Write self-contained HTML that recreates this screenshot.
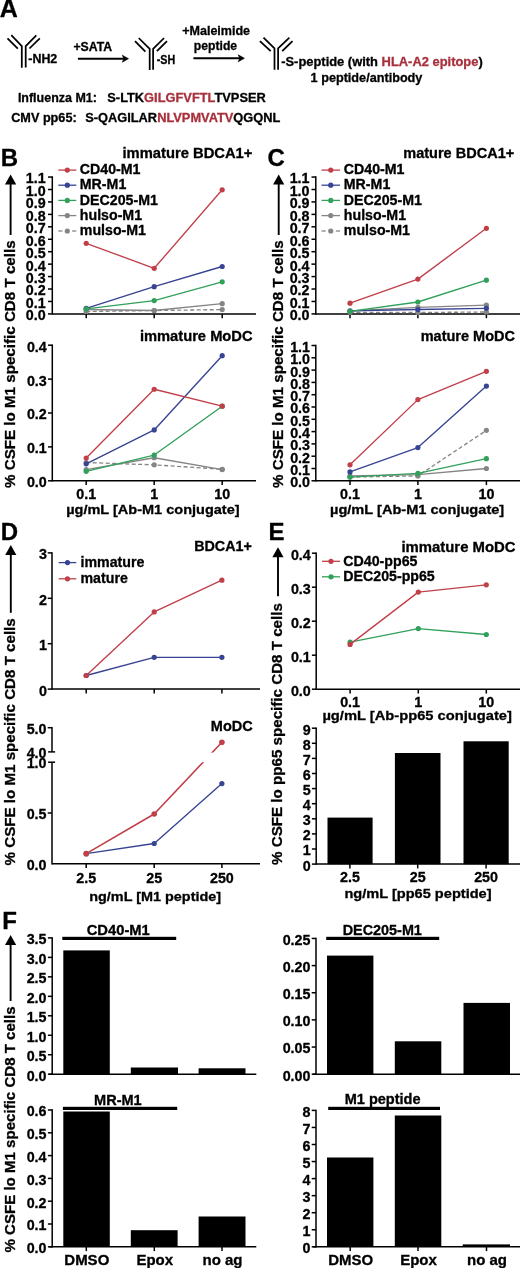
<!DOCTYPE html>
<html><head><meta charset="utf-8"><title>Figure</title>
<style>
html,body{margin:0;padding:0;background:#fff;}
body{width:520px;height:1268px;overflow:hidden;}
svg{display:block;filter:blur(0.3px);}
text{font-family:"Liberation Sans", sans-serif;font-weight:bold;stroke:#000;stroke-width:0.3px;}
tspan.r{stroke:#a8303c;}
</style></head>
<body>
<svg width="520" height="1268" viewBox="0 0 520 1268">
<rect width="520" height="1268" fill="#fff"/>
<text x="-0.20" y="17.20" font-size="25" text-anchor="start" fill="#000" >A</text>
<polyline points="11.30,35.20 21.80,46.20 21.80,67.70" fill="none" stroke="#000" stroke-width="1.75" stroke-linejoin="miter"/>
<polyline points="36.30,35.40 25.70,46.20 25.70,67.50" fill="none" stroke="#000" stroke-width="1.75" stroke-linejoin="miter"/>
<line x1="7.50" y1="38.30" x2="17.80" y2="48.60" stroke="#000" stroke-width="1.75" />
<line x1="39.80" y1="38.30" x2="29.40" y2="48.50" stroke="#000" stroke-width="1.75" />
<text x="28.30" y="63.40" font-size="12.4" text-anchor="start" fill="#000"  textLength="28.99" lengthAdjust="spacingAndGlyphs">-NH2</text>
<text x="73.40" y="51.20" font-size="12.0" text-anchor="start" fill="#000"  textLength="38.70" lengthAdjust="spacingAndGlyphs">+SATA</text>
<line x1="77.90" y1="58.70" x2="124.50" y2="58.70" stroke="#000" stroke-width="2.0" />
<polygon points="128.50,58.70 122.30,55.20 123.90,58.70 122.30,62.20" fill="#000" stroke="#000" stroke-width="0.6" stroke-linejoin="round"/>
<polyline points="138.70,38.00 149.70,48.80 149.70,70.00" fill="none" stroke="#000" stroke-width="1.75" stroke-linejoin="miter"/>
<polyline points="164.10,38.00 153.10,48.80 153.10,69.70" fill="none" stroke="#000" stroke-width="1.75" stroke-linejoin="miter"/>
<line x1="135.00" y1="41.10" x2="145.40" y2="51.70" stroke="#000" stroke-width="1.75" />
<line x1="167.00" y1="41.10" x2="156.90" y2="51.20" stroke="#000" stroke-width="1.75" />
<text x="156.80" y="64.40" font-size="12.0" text-anchor="start" fill="#000"  textLength="18.50" lengthAdjust="spacingAndGlyphs">-SH</text>
<text x="182.20" y="34.90" font-size="12.3" text-anchor="start" fill="#000"  textLength="67.90" lengthAdjust="spacingAndGlyphs">+Maleimide</text>
<text x="193.80" y="49.60" font-size="12.3" text-anchor="start" fill="#000"  textLength="43.30" lengthAdjust="spacingAndGlyphs">peptide</text>
<line x1="193.40" y1="58.30" x2="240.40" y2="58.30" stroke="#000" stroke-width="2.0" />
<polygon points="244.40,58.30 238.20,54.80 239.80,58.30 238.20,61.80" fill="#000" stroke="#000" stroke-width="0.6" stroke-linejoin="round"/>
<polyline points="263.50,37.70 274.50,48.30 274.50,69.80" fill="none" stroke="#000" stroke-width="1.75" stroke-linejoin="miter"/>
<polyline points="289.40,37.70 278.10,48.30 278.10,69.80" fill="none" stroke="#000" stroke-width="1.75" stroke-linejoin="miter"/>
<line x1="259.90" y1="41.10" x2="270.70" y2="51.20" stroke="#000" stroke-width="1.75" />
<line x1="292.50" y1="41.10" x2="282.20" y2="51.20" stroke="#000" stroke-width="1.75" />
<text x="281.20" y="65.60" font-size="12.6" text-anchor="start" fill="#000"  textLength="201.50" lengthAdjust="spacingAndGlyphs">-S-peptide (with <tspan class="r" fill="#a8303c">HLA-A2 epitope</tspan>)</text>
<text x="310.60" y="81.70" font-size="12.8" text-anchor="start" fill="#000"  textLength="111.80" lengthAdjust="spacingAndGlyphs">1 peptide/antibody</text>
<text x="17.90" y="102.40" font-size="12.8" text-anchor="start" fill="#000"  textLength="78.99" lengthAdjust="spacingAndGlyphs">Influenza M1:</text>
<text x="107.30" y="102.40" font-size="12.8" text-anchor="start" fill="#000"  textLength="158.50" lengthAdjust="spacingAndGlyphs">S-LTK<tspan class="r" fill="#a8303c">GILGFVFTL</tspan>TVPSER</text>
<text x="11.20" y="122.20" font-size="12.8" text-anchor="start" fill="#000"  textLength="65.50" lengthAdjust="spacingAndGlyphs">CMV pp65:</text>
<text x="85.20" y="122.20" font-size="12.8" text-anchor="start" fill="#000"  textLength="195.20" lengthAdjust="spacingAndGlyphs">S-QAGILAR<tspan class="r" fill="#a8303c">NLVPMVATV</tspan>QGQNL</text>
<text x="0.70" y="166.00" font-size="24" text-anchor="start" fill="#000" >B</text>
<line x1="10.60" y1="235.00" x2="10.60" y2="182.60" stroke="#000" stroke-width="1.9" />
<polygon points="10.60,174.60 5.00,184.60 16.20,184.60" fill="#000"/>
<text x="0" y="0" font-size="15.5" fill="#000" textLength="247.61" lengthAdjust="spacingAndGlyphs" transform="translate(14.90,488.00) rotate(-90)">% CSFE lo M1 specific CD8 T cells</text>
<line x1="52.30" y1="176.31" x2="52.30" y2="314.65" stroke="#000" stroke-width="1.5" />
<line x1="48.00" y1="313.90" x2="52.30" y2="313.90" stroke="#000" stroke-width="1.5" />
<text x="45.60" y="320.30" font-size="14.3" text-anchor="end" fill="#000" >0.0</text>
<line x1="48.00" y1="301.46" x2="52.30" y2="301.46" stroke="#000" stroke-width="1.5" />
<text x="45.60" y="307.86" font-size="14.3" text-anchor="end" fill="#000" >0.1</text>
<line x1="48.00" y1="289.02" x2="52.30" y2="289.02" stroke="#000" stroke-width="1.5" />
<text x="45.60" y="295.42" font-size="14.3" text-anchor="end" fill="#000" >0.2</text>
<line x1="48.00" y1="276.58" x2="52.30" y2="276.58" stroke="#000" stroke-width="1.5" />
<text x="45.60" y="282.98" font-size="14.3" text-anchor="end" fill="#000" >0.3</text>
<line x1="48.00" y1="264.14" x2="52.30" y2="264.14" stroke="#000" stroke-width="1.5" />
<text x="45.60" y="270.54" font-size="14.3" text-anchor="end" fill="#000" >0.4</text>
<line x1="48.00" y1="251.70" x2="52.30" y2="251.70" stroke="#000" stroke-width="1.5" />
<text x="45.60" y="258.10" font-size="14.3" text-anchor="end" fill="#000" >0.5</text>
<line x1="48.00" y1="239.26" x2="52.30" y2="239.26" stroke="#000" stroke-width="1.5" />
<text x="45.60" y="245.66" font-size="14.3" text-anchor="end" fill="#000" >0.6</text>
<line x1="48.00" y1="226.82" x2="52.30" y2="226.82" stroke="#000" stroke-width="1.5" />
<text x="45.60" y="233.22" font-size="14.3" text-anchor="end" fill="#000" >0.7</text>
<line x1="48.00" y1="214.38" x2="52.30" y2="214.38" stroke="#000" stroke-width="1.5" />
<text x="45.60" y="220.78" font-size="14.3" text-anchor="end" fill="#000" >0.8</text>
<line x1="48.00" y1="201.94" x2="52.30" y2="201.94" stroke="#000" stroke-width="1.5" />
<text x="45.60" y="208.34" font-size="14.3" text-anchor="end" fill="#000" >0.9</text>
<line x1="48.00" y1="189.50" x2="52.30" y2="189.50" stroke="#000" stroke-width="1.5" />
<text x="45.60" y="195.90" font-size="14.3" text-anchor="end" fill="#000" >1.0</text>
<line x1="48.00" y1="177.06" x2="52.30" y2="177.06" stroke="#000" stroke-width="1.5" />
<text x="45.60" y="183.46" font-size="14.3" text-anchor="end" fill="#000" >1.1</text>
<line x1="52.30" y1="313.90" x2="256.00" y2="313.90" stroke="#000" stroke-width="1.5" />
<line x1="86.20" y1="313.90" x2="86.20" y2="318.20" stroke="#000" stroke-width="1.5" />
<line x1="154.20" y1="313.90" x2="154.20" y2="318.20" stroke="#000" stroke-width="1.5" />
<line x1="222.20" y1="313.90" x2="222.20" y2="318.20" stroke="#000" stroke-width="1.5" />
<text x="122.50" y="157.90" font-size="13.8" text-anchor="start" fill="#000"  textLength="129.90" lengthAdjust="spacingAndGlyphs">immature BDCA1+</text>
<polyline points="86.20,311.50 154.20,310.50 222.20,309.60" fill="none" stroke="#858585" stroke-width="1.35" stroke-linejoin="round" stroke-dasharray="4 2.5"/>
<circle cx="86.20" cy="311.50" r="2.6" fill="#858585"/>
<circle cx="154.20" cy="310.50" r="2.6" fill="#858585"/>
<circle cx="222.20" cy="309.60" r="2.6" fill="#858585"/>
<polyline points="86.20,309.50 154.20,310.50 222.20,303.70" fill="none" stroke="#858585" stroke-width="1.35" stroke-linejoin="round" />
<circle cx="86.20" cy="309.50" r="2.6" fill="#858585"/>
<circle cx="154.20" cy="310.50" r="2.6" fill="#858585"/>
<circle cx="222.20" cy="303.70" r="2.6" fill="#858585"/>
<polyline points="86.20,308.30 154.20,286.70 222.20,266.50" fill="none" stroke="#374393" stroke-width="1.35" stroke-linejoin="round" />
<circle cx="86.20" cy="308.30" r="2.6" fill="#374393"/>
<circle cx="154.20" cy="286.70" r="2.6" fill="#374393"/>
<circle cx="222.20" cy="266.50" r="2.6" fill="#374393"/>
<polyline points="86.20,308.80 154.20,300.60 222.20,281.80" fill="none" stroke="#31a05a" stroke-width="1.35" stroke-linejoin="round" />
<circle cx="86.20" cy="308.80" r="2.6" fill="#31a05a"/>
<circle cx="154.20" cy="300.60" r="2.6" fill="#31a05a"/>
<circle cx="222.20" cy="281.80" r="2.6" fill="#31a05a"/>
<polyline points="86.20,243.30 154.20,268.30 222.20,189.80" fill="none" stroke="#c13f49" stroke-width="1.35" stroke-linejoin="round" />
<circle cx="86.20" cy="243.30" r="2.6" fill="#c13f49"/>
<circle cx="154.20" cy="268.30" r="2.6" fill="#c13f49"/>
<circle cx="222.20" cy="189.80" r="2.6" fill="#c13f49"/>
<line x1="58.30" y1="170.10" x2="76.30" y2="170.10" stroke="#c13f49" stroke-width="1.3" />
<circle cx="67.30" cy="170.10" r="2.6" fill="#c13f49"/>
<text x="79.80" y="174.38" font-size="14.2" text-anchor="start" fill="#000" >CD40-M1</text>
<line x1="58.30" y1="185.20" x2="76.30" y2="185.20" stroke="#374393" stroke-width="1.3" />
<circle cx="67.30" cy="185.20" r="2.6" fill="#374393"/>
<text x="79.80" y="189.48" font-size="14.2" text-anchor="start" fill="#000" >MR-M1</text>
<line x1="58.30" y1="200.40" x2="76.30" y2="200.40" stroke="#31a05a" stroke-width="1.3" />
<circle cx="67.30" cy="200.40" r="2.6" fill="#31a05a"/>
<text x="79.80" y="204.68" font-size="14.2" text-anchor="start" fill="#000" >DEC205-M1</text>
<line x1="58.30" y1="215.60" x2="76.30" y2="215.60" stroke="#858585" stroke-width="1.3" />
<circle cx="67.30" cy="215.60" r="2.6" fill="#858585"/>
<text x="79.80" y="219.88" font-size="14.2" text-anchor="start" fill="#000" >hulso-M1</text>
<line x1="58.30" y1="231.00" x2="62.50" y2="231.00" stroke="#858585" stroke-width="1.3" />
<line x1="72.10" y1="231.00" x2="76.30" y2="231.00" stroke="#858585" stroke-width="1.3" />
<circle cx="67.30" cy="231.00" r="2.6" fill="#858585"/>
<text x="79.80" y="235.28" font-size="14.2" text-anchor="start" fill="#000" >mulso-M1</text>
<line x1="52.30" y1="344.45" x2="52.30" y2="481.55" stroke="#000" stroke-width="1.5" />
<line x1="48.00" y1="480.80" x2="52.30" y2="480.80" stroke="#000" stroke-width="1.5" />
<text x="46.80" y="487.20" font-size="14.3" text-anchor="end" fill="#000" >0.0</text>
<line x1="48.00" y1="446.90" x2="52.30" y2="446.90" stroke="#000" stroke-width="1.5" />
<text x="46.80" y="453.30" font-size="14.3" text-anchor="end" fill="#000" >0.1</text>
<line x1="48.00" y1="413.00" x2="52.30" y2="413.00" stroke="#000" stroke-width="1.5" />
<text x="46.80" y="419.40" font-size="14.3" text-anchor="end" fill="#000" >0.2</text>
<line x1="48.00" y1="379.10" x2="52.30" y2="379.10" stroke="#000" stroke-width="1.5" />
<text x="46.80" y="385.50" font-size="14.3" text-anchor="end" fill="#000" >0.3</text>
<line x1="48.00" y1="345.20" x2="52.30" y2="345.20" stroke="#000" stroke-width="1.5" />
<text x="46.80" y="351.60" font-size="14.3" text-anchor="end" fill="#000" >0.4</text>
<line x1="52.30" y1="480.80" x2="256.00" y2="480.80" stroke="#000" stroke-width="1.5" />
<line x1="86.20" y1="480.80" x2="86.20" y2="485.10" stroke="#000" stroke-width="1.5" />
<line x1="154.20" y1="480.80" x2="154.20" y2="485.10" stroke="#000" stroke-width="1.5" />
<line x1="222.20" y1="480.80" x2="222.20" y2="485.10" stroke="#000" stroke-width="1.5" />
<text x="139.90" y="341.20" font-size="13.8" text-anchor="start" fill="#000"  textLength="112.69" lengthAdjust="spacingAndGlyphs">immature MoDC</text>
<polyline points="86.20,462.49 154.20,464.87 222.20,469.27" fill="none" stroke="#858585" stroke-width="1.35" stroke-linejoin="round" stroke-dasharray="4 2.5"/>
<circle cx="86.20" cy="462.49" r="2.6" fill="#858585"/>
<circle cx="154.20" cy="464.87" r="2.6" fill="#858585"/>
<circle cx="222.20" cy="469.27" r="2.6" fill="#858585"/>
<polyline points="86.20,469.61 154.20,457.75 222.20,469.61" fill="none" stroke="#858585" stroke-width="1.35" stroke-linejoin="round" />
<circle cx="86.20" cy="469.61" r="2.6" fill="#858585"/>
<circle cx="154.20" cy="457.75" r="2.6" fill="#858585"/>
<circle cx="222.20" cy="469.61" r="2.6" fill="#858585"/>
<polyline points="86.20,463.85 154.20,429.95 222.20,355.71" fill="none" stroke="#374393" stroke-width="1.35" stroke-linejoin="round" />
<circle cx="86.20" cy="463.85" r="2.6" fill="#374393"/>
<circle cx="154.20" cy="429.95" r="2.6" fill="#374393"/>
<circle cx="222.20" cy="355.71" r="2.6" fill="#374393"/>
<polyline points="86.20,471.31 154.20,455.04 222.20,406.22" fill="none" stroke="#31a05a" stroke-width="1.35" stroke-linejoin="round" />
<circle cx="86.20" cy="471.31" r="2.6" fill="#31a05a"/>
<circle cx="154.20" cy="455.04" r="2.6" fill="#31a05a"/>
<circle cx="222.20" cy="406.22" r="2.6" fill="#31a05a"/>
<polyline points="86.20,458.09 154.20,389.27 222.20,406.22" fill="none" stroke="#c13f49" stroke-width="1.35" stroke-linejoin="round" />
<circle cx="86.20" cy="458.09" r="2.6" fill="#c13f49"/>
<circle cx="154.20" cy="389.27" r="2.6" fill="#c13f49"/>
<circle cx="222.20" cy="406.22" r="2.6" fill="#c13f49"/>
<text x="86.20" y="499.10" font-size="14.3" text-anchor="middle" fill="#000" >0.1</text>
<text x="154.20" y="499.10" font-size="14.3" text-anchor="middle" fill="#000" >1</text>
<text x="222.20" y="499.10" font-size="14.3" text-anchor="middle" fill="#000" >10</text>
<text x="66.20" y="513.70" font-size="13.6" text-anchor="start" fill="#000"  textLength="173.41" lengthAdjust="spacingAndGlyphs">µg/mL [Ab-M1 conjugate]</text>
<text x="267.60" y="166.30" font-size="24" text-anchor="start" fill="#000" >C</text>
<line x1="278.70" y1="235.00" x2="278.70" y2="182.60" stroke="#000" stroke-width="1.9" />
<polygon points="278.70,174.60 273.10,184.60 284.30,184.60" fill="#000"/>
<text x="0" y="0" font-size="15.5" fill="#000" textLength="247.61" lengthAdjust="spacingAndGlyphs" transform="translate(283.00,488.00) rotate(-90)">% CSFE lo M1 specific CD8 T cells</text>
<line x1="315.80" y1="176.31" x2="315.80" y2="314.65" stroke="#000" stroke-width="1.5" />
<line x1="311.50" y1="313.90" x2="315.80" y2="313.90" stroke="#000" stroke-width="1.5" />
<text x="309.50" y="320.30" font-size="14.3" text-anchor="end" fill="#000" >0.0</text>
<line x1="311.50" y1="301.46" x2="315.80" y2="301.46" stroke="#000" stroke-width="1.5" />
<text x="309.50" y="307.86" font-size="14.3" text-anchor="end" fill="#000" >0.1</text>
<line x1="311.50" y1="289.02" x2="315.80" y2="289.02" stroke="#000" stroke-width="1.5" />
<text x="309.50" y="295.42" font-size="14.3" text-anchor="end" fill="#000" >0.2</text>
<line x1="311.50" y1="276.58" x2="315.80" y2="276.58" stroke="#000" stroke-width="1.5" />
<text x="309.50" y="282.98" font-size="14.3" text-anchor="end" fill="#000" >0.3</text>
<line x1="311.50" y1="264.14" x2="315.80" y2="264.14" stroke="#000" stroke-width="1.5" />
<text x="309.50" y="270.54" font-size="14.3" text-anchor="end" fill="#000" >0.4</text>
<line x1="311.50" y1="251.70" x2="315.80" y2="251.70" stroke="#000" stroke-width="1.5" />
<text x="309.50" y="258.10" font-size="14.3" text-anchor="end" fill="#000" >0.5</text>
<line x1="311.50" y1="239.26" x2="315.80" y2="239.26" stroke="#000" stroke-width="1.5" />
<text x="309.50" y="245.66" font-size="14.3" text-anchor="end" fill="#000" >0.6</text>
<line x1="311.50" y1="226.82" x2="315.80" y2="226.82" stroke="#000" stroke-width="1.5" />
<text x="309.50" y="233.22" font-size="14.3" text-anchor="end" fill="#000" >0.7</text>
<line x1="311.50" y1="214.38" x2="315.80" y2="214.38" stroke="#000" stroke-width="1.5" />
<text x="309.50" y="220.78" font-size="14.3" text-anchor="end" fill="#000" >0.8</text>
<line x1="311.50" y1="201.94" x2="315.80" y2="201.94" stroke="#000" stroke-width="1.5" />
<text x="309.50" y="208.34" font-size="14.3" text-anchor="end" fill="#000" >0.9</text>
<line x1="311.50" y1="189.50" x2="315.80" y2="189.50" stroke="#000" stroke-width="1.5" />
<text x="309.50" y="195.90" font-size="14.3" text-anchor="end" fill="#000" >1.0</text>
<line x1="311.50" y1="177.06" x2="315.80" y2="177.06" stroke="#000" stroke-width="1.5" />
<text x="309.50" y="183.46" font-size="14.3" text-anchor="end" fill="#000" >1.1</text>
<line x1="315.80" y1="313.90" x2="520.00" y2="313.90" stroke="#000" stroke-width="1.5" />
<line x1="350.00" y1="313.90" x2="350.00" y2="318.20" stroke="#000" stroke-width="1.5" />
<line x1="417.90" y1="313.90" x2="417.90" y2="318.20" stroke="#000" stroke-width="1.5" />
<line x1="486.40" y1="313.90" x2="486.40" y2="318.20" stroke="#000" stroke-width="1.5" />
<text x="403.30" y="158.30" font-size="13.8" text-anchor="start" fill="#000"  textLength="110.90" lengthAdjust="spacingAndGlyphs">mature BDCA1+</text>
<polyline points="350.00,312.30 417.90,312.50 486.40,312.00" fill="none" stroke="#858585" stroke-width="1.35" stroke-linejoin="round" stroke-dasharray="4 2.5"/>
<circle cx="350.00" cy="312.30" r="2.6" fill="#858585"/>
<circle cx="417.90" cy="312.50" r="2.6" fill="#858585"/>
<circle cx="486.40" cy="312.00" r="2.6" fill="#858585"/>
<polyline points="350.00,311.00 417.90,307.30 486.40,305.20" fill="none" stroke="#858585" stroke-width="1.35" stroke-linejoin="round" />
<circle cx="350.00" cy="311.00" r="2.6" fill="#858585"/>
<circle cx="417.90" cy="307.30" r="2.6" fill="#858585"/>
<circle cx="486.40" cy="305.20" r="2.6" fill="#858585"/>
<polyline points="350.00,310.80 417.90,309.50 486.40,308.30" fill="none" stroke="#374393" stroke-width="1.35" stroke-linejoin="round" />
<circle cx="350.00" cy="310.80" r="2.6" fill="#374393"/>
<circle cx="417.90" cy="309.50" r="2.6" fill="#374393"/>
<circle cx="486.40" cy="308.30" r="2.6" fill="#374393"/>
<polyline points="350.00,311.30 417.90,302.00 486.40,280.20" fill="none" stroke="#31a05a" stroke-width="1.35" stroke-linejoin="round" />
<circle cx="350.00" cy="311.30" r="2.6" fill="#31a05a"/>
<circle cx="417.90" cy="302.00" r="2.6" fill="#31a05a"/>
<circle cx="486.40" cy="280.20" r="2.6" fill="#31a05a"/>
<polyline points="350.00,303.20 417.90,279.10 486.40,228.30" fill="none" stroke="#c13f49" stroke-width="1.35" stroke-linejoin="round" />
<circle cx="350.00" cy="303.20" r="2.6" fill="#c13f49"/>
<circle cx="417.90" cy="279.10" r="2.6" fill="#c13f49"/>
<circle cx="486.40" cy="228.30" r="2.6" fill="#c13f49"/>
<line x1="321.50" y1="170.10" x2="340.00" y2="170.10" stroke="#c13f49" stroke-width="1.3" />
<circle cx="330.75" cy="170.10" r="2.6" fill="#c13f49"/>
<text x="343.80" y="174.38" font-size="14.2" text-anchor="start" fill="#000" >CD40-M1</text>
<line x1="321.50" y1="185.20" x2="340.00" y2="185.20" stroke="#374393" stroke-width="1.3" />
<circle cx="330.75" cy="185.20" r="2.6" fill="#374393"/>
<text x="343.80" y="189.48" font-size="14.2" text-anchor="start" fill="#000" >MR-M1</text>
<line x1="321.50" y1="200.40" x2="340.00" y2="200.40" stroke="#31a05a" stroke-width="1.3" />
<circle cx="330.75" cy="200.40" r="2.6" fill="#31a05a"/>
<text x="343.80" y="204.68" font-size="14.2" text-anchor="start" fill="#000" >DEC205-M1</text>
<line x1="321.50" y1="215.60" x2="340.00" y2="215.60" stroke="#858585" stroke-width="1.3" />
<circle cx="330.75" cy="215.60" r="2.6" fill="#858585"/>
<text x="343.80" y="219.88" font-size="14.2" text-anchor="start" fill="#000" >hulso-M1</text>
<line x1="321.50" y1="231.00" x2="325.70" y2="231.00" stroke="#858585" stroke-width="1.3" />
<line x1="335.80" y1="231.00" x2="340.00" y2="231.00" stroke="#858585" stroke-width="1.3" />
<circle cx="330.75" cy="231.00" r="2.6" fill="#858585"/>
<text x="343.80" y="235.28" font-size="14.2" text-anchor="start" fill="#000" >mulso-M1</text>
<line x1="315.80" y1="344.75" x2="315.80" y2="481.55" stroke="#000" stroke-width="1.5" />
<line x1="311.50" y1="480.80" x2="315.80" y2="480.80" stroke="#000" stroke-width="1.5" />
<text x="310.00" y="487.20" font-size="14.3" text-anchor="end" fill="#000" >0.0</text>
<line x1="311.50" y1="468.50" x2="315.80" y2="468.50" stroke="#000" stroke-width="1.5" />
<text x="310.00" y="474.90" font-size="14.3" text-anchor="end" fill="#000" >0.1</text>
<line x1="311.50" y1="456.20" x2="315.80" y2="456.20" stroke="#000" stroke-width="1.5" />
<text x="310.00" y="462.60" font-size="14.3" text-anchor="end" fill="#000" >0.2</text>
<line x1="311.50" y1="443.90" x2="315.80" y2="443.90" stroke="#000" stroke-width="1.5" />
<text x="310.00" y="450.30" font-size="14.3" text-anchor="end" fill="#000" >0.3</text>
<line x1="311.50" y1="431.60" x2="315.80" y2="431.60" stroke="#000" stroke-width="1.5" />
<text x="310.00" y="438.00" font-size="14.3" text-anchor="end" fill="#000" >0.4</text>
<line x1="311.50" y1="419.30" x2="315.80" y2="419.30" stroke="#000" stroke-width="1.5" />
<text x="310.00" y="425.70" font-size="14.3" text-anchor="end" fill="#000" >0.5</text>
<line x1="311.50" y1="407.00" x2="315.80" y2="407.00" stroke="#000" stroke-width="1.5" />
<text x="310.00" y="413.40" font-size="14.3" text-anchor="end" fill="#000" >0.6</text>
<line x1="311.50" y1="394.70" x2="315.80" y2="394.70" stroke="#000" stroke-width="1.5" />
<text x="310.00" y="401.10" font-size="14.3" text-anchor="end" fill="#000" >0.7</text>
<line x1="311.50" y1="382.40" x2="315.80" y2="382.40" stroke="#000" stroke-width="1.5" />
<text x="310.00" y="388.80" font-size="14.3" text-anchor="end" fill="#000" >0.8</text>
<line x1="311.50" y1="370.10" x2="315.80" y2="370.10" stroke="#000" stroke-width="1.5" />
<text x="310.00" y="376.50" font-size="14.3" text-anchor="end" fill="#000" >0.9</text>
<line x1="311.50" y1="357.80" x2="315.80" y2="357.80" stroke="#000" stroke-width="1.5" />
<text x="310.00" y="364.20" font-size="14.3" text-anchor="end" fill="#000" >1.0</text>
<line x1="311.50" y1="345.50" x2="315.80" y2="345.50" stroke="#000" stroke-width="1.5" />
<text x="310.00" y="351.90" font-size="14.3" text-anchor="end" fill="#000" >1.1</text>
<line x1="315.80" y1="480.80" x2="520.00" y2="480.80" stroke="#000" stroke-width="1.5" />
<line x1="350.00" y1="480.80" x2="350.00" y2="485.10" stroke="#000" stroke-width="1.5" />
<line x1="417.90" y1="480.80" x2="417.90" y2="485.10" stroke="#000" stroke-width="1.5" />
<line x1="486.40" y1="480.80" x2="486.40" y2="485.10" stroke="#000" stroke-width="1.5" />
<text x="420.70" y="340.80" font-size="13.8" text-anchor="start" fill="#000"  textLength="94.29" lengthAdjust="spacingAndGlyphs">mature MoDC</text>
<polyline points="350.00,477.11 417.90,475.88 486.40,430.37" fill="none" stroke="#858585" stroke-width="1.35" stroke-linejoin="round" stroke-dasharray="4 2.5"/>
<circle cx="350.00" cy="477.11" r="2.6" fill="#858585"/>
<circle cx="417.90" cy="475.88" r="2.6" fill="#858585"/>
<circle cx="486.40" cy="430.37" r="2.6" fill="#858585"/>
<polyline points="350.00,475.88 417.90,474.65 486.40,468.50" fill="none" stroke="#858585" stroke-width="1.35" stroke-linejoin="round" />
<circle cx="350.00" cy="475.88" r="2.6" fill="#858585"/>
<circle cx="417.90" cy="474.65" r="2.6" fill="#858585"/>
<circle cx="486.40" cy="468.50" r="2.6" fill="#858585"/>
<polyline points="350.00,477.11 417.90,473.42 486.40,458.66" fill="none" stroke="#31a05a" stroke-width="1.35" stroke-linejoin="round" />
<circle cx="350.00" cy="477.11" r="2.6" fill="#31a05a"/>
<circle cx="417.90" cy="473.42" r="2.6" fill="#31a05a"/>
<circle cx="486.40" cy="458.66" r="2.6" fill="#31a05a"/>
<polyline points="350.00,471.94 417.90,447.59 486.40,386.09" fill="none" stroke="#374393" stroke-width="1.35" stroke-linejoin="round" />
<circle cx="350.00" cy="471.94" r="2.6" fill="#374393"/>
<circle cx="417.90" cy="447.59" r="2.6" fill="#374393"/>
<circle cx="486.40" cy="386.09" r="2.6" fill="#374393"/>
<polyline points="350.00,464.81 417.90,399.62 486.40,371.33" fill="none" stroke="#c13f49" stroke-width="1.35" stroke-linejoin="round" />
<circle cx="350.00" cy="464.81" r="2.6" fill="#c13f49"/>
<circle cx="417.90" cy="399.62" r="2.6" fill="#c13f49"/>
<circle cx="486.40" cy="371.33" r="2.6" fill="#c13f49"/>
<text x="350.00" y="499.10" font-size="14.3" text-anchor="middle" fill="#000" >0.1</text>
<text x="417.90" y="499.10" font-size="14.3" text-anchor="middle" fill="#000" >1</text>
<text x="486.40" y="499.10" font-size="14.3" text-anchor="middle" fill="#000" >10</text>
<text x="330.00" y="513.70" font-size="13.6" text-anchor="start" fill="#000"  textLength="174.21" lengthAdjust="spacingAndGlyphs">µg/mL [Ab-M1 conjugate]</text>
<text x="0.70" y="540.30" font-size="24" text-anchor="start" fill="#000" >D</text>
<line x1="10.80" y1="612.80" x2="10.80" y2="553.00" stroke="#000" stroke-width="1.9" />
<polygon points="10.80,545.00 5.20,555.00 16.40,555.00" fill="#000"/>
<text x="0" y="0" font-size="15.5" fill="#000" textLength="247.11" lengthAdjust="spacingAndGlyphs" transform="translate(15.10,865.40) rotate(-90)">% CSFE lo M1 specific CD8 T cells</text>
<line x1="52.00" y1="552.15" x2="52.00" y2="689.85" stroke="#000" stroke-width="1.5" />
<line x1="47.70" y1="689.10" x2="52.00" y2="689.10" stroke="#000" stroke-width="1.5" />
<text x="47.00" y="695.50" font-size="14.3" text-anchor="end" fill="#000" >0</text>
<line x1="47.70" y1="643.70" x2="52.00" y2="643.70" stroke="#000" stroke-width="1.5" />
<text x="47.00" y="650.10" font-size="14.3" text-anchor="end" fill="#000" >1</text>
<line x1="47.70" y1="598.30" x2="52.00" y2="598.30" stroke="#000" stroke-width="1.5" />
<text x="47.00" y="604.70" font-size="14.3" text-anchor="end" fill="#000" >2</text>
<line x1="47.70" y1="552.90" x2="52.00" y2="552.90" stroke="#000" stroke-width="1.5" />
<text x="47.00" y="559.30" font-size="14.3" text-anchor="end" fill="#000" >3</text>
<line x1="52.00" y1="689.10" x2="260.00" y2="689.10" stroke="#000" stroke-width="1.5" />
<line x1="86.20" y1="689.10" x2="86.20" y2="693.40" stroke="#000" stroke-width="1.5" />
<line x1="154.20" y1="689.10" x2="154.20" y2="693.40" stroke="#000" stroke-width="1.5" />
<line x1="221.90" y1="689.10" x2="221.90" y2="693.40" stroke="#000" stroke-width="1.5" />
<text x="194.20" y="551.20" font-size="13.8" text-anchor="start" fill="#000"  textLength="57.70" lengthAdjust="spacingAndGlyphs">BDCA1+</text>
<polyline points="86.20,675.48 154.20,657.32 221.90,657.32" fill="none" stroke="#374393" stroke-width="1.35" stroke-linejoin="round" />
<circle cx="86.20" cy="675.48" r="2.6" fill="#374393"/>
<circle cx="154.20" cy="657.32" r="2.6" fill="#374393"/>
<circle cx="221.90" cy="657.32" r="2.6" fill="#374393"/>
<polyline points="86.20,675.48 154.20,611.92 221.90,580.14" fill="none" stroke="#c13f49" stroke-width="1.35" stroke-linejoin="round" />
<circle cx="86.20" cy="675.48" r="2.6" fill="#c13f49"/>
<circle cx="154.20" cy="611.92" r="2.6" fill="#c13f49"/>
<circle cx="221.90" cy="580.14" r="2.6" fill="#c13f49"/>
<line x1="58.70" y1="562.60" x2="76.30" y2="562.60" stroke="#374393" stroke-width="1.3" />
<circle cx="67.50" cy="562.60" r="2.6" fill="#374393"/>
<text x="80.50" y="566.88" font-size="14.2" text-anchor="start" fill="#000" >immature</text>
<line x1="58.70" y1="578.80" x2="76.30" y2="578.80" stroke="#c13f49" stroke-width="1.3" />
<circle cx="67.50" cy="578.80" r="2.6" fill="#c13f49"/>
<text x="80.50" y="583.08" font-size="14.2" text-anchor="start" fill="#000" >mature</text>
<line x1="52.00" y1="726.95" x2="52.00" y2="751.90" stroke="#000" stroke-width="1.5" />
<line x1="47.70" y1="727.70" x2="52.00" y2="727.70" stroke="#000" stroke-width="1.5" />
<line x1="48.10" y1="751.90" x2="55.10" y2="751.90" stroke="#000" stroke-width="1.5" />
<text x="46.50" y="734.10" font-size="14.3" text-anchor="end" fill="#000" >5.0</text>
<text x="46.50" y="758.20" font-size="14.3" text-anchor="end" fill="#000" >4.0</text>
<line x1="52.00" y1="762.20" x2="52.00" y2="864.55" stroke="#000" stroke-width="1.5" />
<line x1="48.10" y1="762.20" x2="55.10" y2="762.20" stroke="#000" stroke-width="1.5" />
<line x1="47.70" y1="813.00" x2="52.00" y2="813.00" stroke="#000" stroke-width="1.5" />
<text x="46.50" y="767.70" font-size="14.3" text-anchor="end" fill="#000" >1.0</text>
<text x="46.50" y="819.40" font-size="14.3" text-anchor="end" fill="#000" >0.5</text>
<text x="46.50" y="870.20" font-size="14.3" text-anchor="end" fill="#000" >0.0</text>
<line x1="52.00" y1="863.80" x2="260.00" y2="863.80" stroke="#000" stroke-width="1.5" />
<line x1="86.20" y1="863.80" x2="86.20" y2="868.10" stroke="#000" stroke-width="1.5" />
<line x1="154.20" y1="863.80" x2="154.20" y2="868.10" stroke="#000" stroke-width="1.5" />
<line x1="221.90" y1="863.80" x2="221.90" y2="868.10" stroke="#000" stroke-width="1.5" />
<text x="210.80" y="731.20" font-size="13.8" text-anchor="start" fill="#000"  textLength="41.90" lengthAdjust="spacingAndGlyphs">MoDC</text>
<polyline points="86.20,853.64 154.20,843.48 221.90,783.54" fill="none" stroke="#374393" stroke-width="1.35" stroke-linejoin="round" />
<circle cx="86.20" cy="853.64" r="2.6" fill="#374393"/>
<circle cx="154.20" cy="843.48" r="2.6" fill="#374393"/>
<circle cx="221.90" cy="783.54" r="2.6" fill="#374393"/>
<polyline points="86.20,853.64 154.20,814.02 221.90,742.30" fill="none" stroke="#c13f49" stroke-width="1.6" stroke-linejoin="round" />
<rect x="150" y="752.6" width="90" height="9.6" fill="#fff"/>
<circle cx="86.20" cy="853.64" r="2.8" fill="#c13f49"/>
<circle cx="154.20" cy="814.02" r="2.8" fill="#c13f49"/>
<circle cx="221.90" cy="742.30" r="2.8" fill="#c13f49"/>
<text x="86.20" y="882.70" font-size="14.3" text-anchor="middle" fill="#000" >2.5</text>
<text x="154.20" y="882.70" font-size="14.3" text-anchor="middle" fill="#000" >25</text>
<text x="221.90" y="882.70" font-size="14.3" text-anchor="middle" fill="#000" >250</text>
<text x="89.20" y="900.80" font-size="13.6" text-anchor="start" fill="#000"  textLength="131.90" lengthAdjust="spacingAndGlyphs">ng/mL [M1 peptide]</text>
<text x="268.50" y="540.30" font-size="24" text-anchor="start" fill="#000" >E</text>
<line x1="278.00" y1="596.20" x2="278.00" y2="555.30" stroke="#000" stroke-width="1.9" />
<polygon points="278.00,547.30 272.40,557.30 283.60,557.30" fill="#000"/>
<text x="0" y="0" font-size="15.5" fill="#000" textLength="261.90" lengthAdjust="spacingAndGlyphs" transform="translate(282.30,865.00) rotate(-90)">% CSFE lo pp65 specific CD8 T cells</text>
<line x1="316.20" y1="552.45" x2="316.20" y2="689.95" stroke="#000" stroke-width="1.5" />
<line x1="311.90" y1="689.20" x2="316.20" y2="689.20" stroke="#000" stroke-width="1.5" />
<text x="310.80" y="695.60" font-size="14.3" text-anchor="end" fill="#000" >0.0</text>
<line x1="311.90" y1="655.20" x2="316.20" y2="655.20" stroke="#000" stroke-width="1.5" />
<text x="310.80" y="661.60" font-size="14.3" text-anchor="end" fill="#000" >0.1</text>
<line x1="311.90" y1="621.20" x2="316.20" y2="621.20" stroke="#000" stroke-width="1.5" />
<text x="310.80" y="627.60" font-size="14.3" text-anchor="end" fill="#000" >0.2</text>
<line x1="311.90" y1="587.20" x2="316.20" y2="587.20" stroke="#000" stroke-width="1.5" />
<text x="310.80" y="593.60" font-size="14.3" text-anchor="end" fill="#000" >0.3</text>
<line x1="311.90" y1="553.20" x2="316.20" y2="553.20" stroke="#000" stroke-width="1.5" />
<text x="310.80" y="559.60" font-size="14.3" text-anchor="end" fill="#000" >0.4</text>
<line x1="316.20" y1="689.20" x2="520.00" y2="689.20" stroke="#000" stroke-width="1.5" />
<line x1="350.10" y1="689.20" x2="350.10" y2="693.50" stroke="#000" stroke-width="1.5" />
<line x1="418.30" y1="689.20" x2="418.30" y2="693.50" stroke="#000" stroke-width="1.5" />
<line x1="486.30" y1="689.20" x2="486.30" y2="693.50" stroke="#000" stroke-width="1.5" />
<text x="401.40" y="552.00" font-size="13.8" text-anchor="start" fill="#000"  textLength="114.19" lengthAdjust="spacingAndGlyphs">immature MoDC</text>
<polyline points="350.10,642.20 418.30,628.60 486.30,634.50" fill="none" stroke="#31a05a" stroke-width="1.35" stroke-linejoin="round" />
<circle cx="350.10" cy="642.20" r="2.6" fill="#31a05a"/>
<circle cx="418.30" cy="628.60" r="2.6" fill="#31a05a"/>
<circle cx="486.30" cy="634.50" r="2.6" fill="#31a05a"/>
<polyline points="350.10,644.40 418.30,592.10 486.30,584.80" fill="none" stroke="#c13f49" stroke-width="1.35" stroke-linejoin="round" />
<circle cx="350.10" cy="644.40" r="2.6" fill="#c13f49"/>
<circle cx="418.30" cy="592.10" r="2.6" fill="#c13f49"/>
<circle cx="486.30" cy="584.80" r="2.6" fill="#c13f49"/>
<line x1="322.00" y1="561.30" x2="340.00" y2="561.30" stroke="#c13f49" stroke-width="1.3" />
<circle cx="331.00" cy="561.30" r="2.6" fill="#c13f49"/>
<text x="343.30" y="565.58" font-size="14.2" text-anchor="start" fill="#000" >CD40-pp65</text>
<line x1="322.00" y1="576.80" x2="340.00" y2="576.80" stroke="#31a05a" stroke-width="1.3" />
<circle cx="331.00" cy="576.80" r="2.6" fill="#31a05a"/>
<text x="343.30" y="581.08" font-size="14.2" text-anchor="start" fill="#000" >DEC205-pp65</text>
<text x="350.10" y="707.00" font-size="14.3" text-anchor="middle" fill="#000" >0.1</text>
<text x="418.30" y="707.00" font-size="14.3" text-anchor="middle" fill="#000" >1</text>
<text x="486.30" y="707.00" font-size="14.3" text-anchor="middle" fill="#000" >10</text>
<text x="322.40" y="719.50" font-size="13.6" text-anchor="start" fill="#000"  textLength="189.50" lengthAdjust="spacingAndGlyphs">µg/mL [Ab-pp65 conjugate]</text>
<line x1="316.20" y1="727.45" x2="316.20" y2="864.85" stroke="#000" stroke-width="1.5" />
<line x1="311.90" y1="864.10" x2="316.20" y2="864.10" stroke="#000" stroke-width="1.5" />
<text x="310.60" y="870.50" font-size="14.3" text-anchor="end" fill="#000" >0</text>
<line x1="311.90" y1="849.00" x2="316.20" y2="849.00" stroke="#000" stroke-width="1.5" />
<text x="310.60" y="855.40" font-size="14.3" text-anchor="end" fill="#000" >1</text>
<line x1="311.90" y1="833.90" x2="316.20" y2="833.90" stroke="#000" stroke-width="1.5" />
<text x="310.60" y="840.30" font-size="14.3" text-anchor="end" fill="#000" >2</text>
<line x1="311.90" y1="818.80" x2="316.20" y2="818.80" stroke="#000" stroke-width="1.5" />
<text x="310.60" y="825.20" font-size="14.3" text-anchor="end" fill="#000" >3</text>
<line x1="311.90" y1="803.70" x2="316.20" y2="803.70" stroke="#000" stroke-width="1.5" />
<text x="310.60" y="810.10" font-size="14.3" text-anchor="end" fill="#000" >4</text>
<line x1="311.90" y1="788.60" x2="316.20" y2="788.60" stroke="#000" stroke-width="1.5" />
<text x="310.60" y="795.00" font-size="14.3" text-anchor="end" fill="#000" >5</text>
<line x1="311.90" y1="773.50" x2="316.20" y2="773.50" stroke="#000" stroke-width="1.5" />
<text x="310.60" y="779.90" font-size="14.3" text-anchor="end" fill="#000" >6</text>
<line x1="311.90" y1="758.40" x2="316.20" y2="758.40" stroke="#000" stroke-width="1.5" />
<text x="310.60" y="764.80" font-size="14.3" text-anchor="end" fill="#000" >7</text>
<line x1="311.90" y1="743.30" x2="316.20" y2="743.30" stroke="#000" stroke-width="1.5" />
<text x="310.60" y="749.70" font-size="14.3" text-anchor="end" fill="#000" >8</text>
<line x1="311.90" y1="728.20" x2="316.20" y2="728.20" stroke="#000" stroke-width="1.5" />
<text x="310.60" y="734.60" font-size="14.3" text-anchor="end" fill="#000" >9</text>
<rect x="327.50" y="817.60" width="45.10" height="46.50" fill="#000"/>
<rect x="394.90" y="753.00" width="45.60" height="111.10" fill="#000"/>
<rect x="463.50" y="741.30" width="45.20" height="122.80" fill="#000"/>
<line x1="316.20" y1="864.10" x2="520.00" y2="864.10" stroke="#000" stroke-width="1.5" />
<line x1="349.90" y1="864.10" x2="349.90" y2="868.40" stroke="#000" stroke-width="1.5" />
<line x1="417.70" y1="864.10" x2="417.70" y2="868.40" stroke="#000" stroke-width="1.5" />
<line x1="486.10" y1="864.10" x2="486.10" y2="868.40" stroke="#000" stroke-width="1.5" />
<text x="349.90" y="882.40" font-size="14.3" text-anchor="middle" fill="#000" >2.5</text>
<text x="417.70" y="882.40" font-size="14.3" text-anchor="middle" fill="#000" >25</text>
<text x="486.10" y="882.40" font-size="14.3" text-anchor="middle" fill="#000" >250</text>
<text x="344.40" y="897.60" font-size="13.6" text-anchor="start" fill="#000"  textLength="147.20" lengthAdjust="spacingAndGlyphs">ng/mL [pp65 peptide]</text>
<text x="2.20" y="928.90" font-size="24" text-anchor="start" fill="#000" >F</text>
<line x1="10.60" y1="1001.00" x2="10.60" y2="943.00" stroke="#000" stroke-width="1.9" />
<polygon points="10.60,935.00 5.00,945.00 16.20,945.00" fill="#000"/>
<text x="0" y="0" font-size="15.5" fill="#000" textLength="246.11" lengthAdjust="spacingAndGlyphs" transform="translate(14.90,1252.50) rotate(-90)">% CSFE lo M1 specific CD8 T cells</text>
<line x1="52.20" y1="937.16" x2="52.20" y2="1074.95" stroke="#000" stroke-width="1.5" />
<line x1="47.90" y1="1074.20" x2="52.20" y2="1074.20" stroke="#000" stroke-width="1.5" />
<text x="46.50" y="1080.60" font-size="14.3" text-anchor="end" fill="#000" >0.0</text>
<line x1="47.90" y1="1054.73" x2="52.20" y2="1054.73" stroke="#000" stroke-width="1.5" />
<text x="46.50" y="1061.13" font-size="14.3" text-anchor="end" fill="#000" >0.5</text>
<line x1="47.90" y1="1035.26" x2="52.20" y2="1035.26" stroke="#000" stroke-width="1.5" />
<text x="46.50" y="1041.66" font-size="14.3" text-anchor="end" fill="#000" >1.0</text>
<line x1="47.90" y1="1015.79" x2="52.20" y2="1015.79" stroke="#000" stroke-width="1.5" />
<text x="46.50" y="1022.19" font-size="14.3" text-anchor="end" fill="#000" >1.5</text>
<line x1="47.90" y1="996.32" x2="52.20" y2="996.32" stroke="#000" stroke-width="1.5" />
<text x="46.50" y="1002.72" font-size="14.3" text-anchor="end" fill="#000" >2.0</text>
<line x1="47.90" y1="976.85" x2="52.20" y2="976.85" stroke="#000" stroke-width="1.5" />
<text x="46.50" y="983.25" font-size="14.3" text-anchor="end" fill="#000" >2.5</text>
<line x1="47.90" y1="957.38" x2="52.20" y2="957.38" stroke="#000" stroke-width="1.5" />
<text x="46.50" y="963.78" font-size="14.3" text-anchor="end" fill="#000" >3.0</text>
<line x1="47.90" y1="937.91" x2="52.20" y2="937.91" stroke="#000" stroke-width="1.5" />
<text x="46.50" y="944.31" font-size="14.3" text-anchor="end" fill="#000" >3.5</text>
<rect x="63.30" y="950.40" width="46.50" height="123.80" fill="#000"/>
<rect x="130.80" y="1067.50" width="47.20" height="6.70" fill="#000"/>
<rect x="198.60" y="1068.30" width="46.90" height="5.90" fill="#000"/>
<line x1="49.20" y1="1074.20" x2="256.30" y2="1074.20" stroke="#000" stroke-width="1.5" />
<rect x="62.3" y="936.8" width="113.9" height="3.2" fill="#000"/>
<text x="86.70" y="934.90" font-size="13.8" text-anchor="start" fill="#000"  textLength="63.10" lengthAdjust="spacingAndGlyphs">CD40-M1</text>
<line x1="316.00" y1="937.70" x2="316.00" y2="1074.95" stroke="#000" stroke-width="1.5" />
<line x1="311.70" y1="1074.20" x2="316.00" y2="1074.20" stroke="#000" stroke-width="1.5" />
<text x="310.50" y="1080.60" font-size="14.3" text-anchor="end" fill="#000" >0.00</text>
<line x1="311.70" y1="1047.05" x2="316.00" y2="1047.05" stroke="#000" stroke-width="1.5" />
<text x="310.50" y="1053.45" font-size="14.3" text-anchor="end" fill="#000" >0.05</text>
<line x1="311.70" y1="1019.90" x2="316.00" y2="1019.90" stroke="#000" stroke-width="1.5" />
<text x="310.50" y="1026.30" font-size="14.3" text-anchor="end" fill="#000" >0.10</text>
<line x1="311.70" y1="992.75" x2="316.00" y2="992.75" stroke="#000" stroke-width="1.5" />
<text x="310.50" y="999.15" font-size="14.3" text-anchor="end" fill="#000" >0.15</text>
<line x1="311.70" y1="965.60" x2="316.00" y2="965.60" stroke="#000" stroke-width="1.5" />
<text x="310.50" y="972.00" font-size="14.3" text-anchor="end" fill="#000" >0.20</text>
<line x1="311.70" y1="938.45" x2="316.00" y2="938.45" stroke="#000" stroke-width="1.5" />
<text x="310.50" y="944.85" font-size="14.3" text-anchor="end" fill="#000" >0.25</text>
<rect x="327.00" y="955.60" width="46.40" height="118.60" fill="#000"/>
<rect x="394.80" y="1041.30" width="46.50" height="32.90" fill="#000"/>
<rect x="463.50" y="1002.90" width="46.50" height="71.30" fill="#000"/>
<line x1="313.00" y1="1074.20" x2="520.00" y2="1074.20" stroke="#000" stroke-width="1.5" />
<rect x="326.2" y="936.8" width="113" height="3.2" fill="#000"/>
<text x="342.70" y="934.90" font-size="13.8" text-anchor="start" fill="#000"  textLength="79.20" lengthAdjust="spacingAndGlyphs">DEC205-M1</text>
<line x1="52.20" y1="1109.25" x2="52.20" y2="1247.55" stroke="#000" stroke-width="1.5" />
<line x1="47.90" y1="1246.80" x2="52.20" y2="1246.80" stroke="#000" stroke-width="1.5" />
<text x="46.50" y="1253.20" font-size="14.3" text-anchor="end" fill="#000" >0.0</text>
<line x1="47.90" y1="1224.00" x2="52.20" y2="1224.00" stroke="#000" stroke-width="1.5" />
<text x="46.50" y="1230.40" font-size="14.3" text-anchor="end" fill="#000" >0.1</text>
<line x1="47.90" y1="1201.20" x2="52.20" y2="1201.20" stroke="#000" stroke-width="1.5" />
<text x="46.50" y="1207.60" font-size="14.3" text-anchor="end" fill="#000" >0.2</text>
<line x1="47.90" y1="1178.40" x2="52.20" y2="1178.40" stroke="#000" stroke-width="1.5" />
<text x="46.50" y="1184.80" font-size="14.3" text-anchor="end" fill="#000" >0.3</text>
<line x1="47.90" y1="1155.60" x2="52.20" y2="1155.60" stroke="#000" stroke-width="1.5" />
<text x="46.50" y="1162.00" font-size="14.3" text-anchor="end" fill="#000" >0.4</text>
<line x1="47.90" y1="1132.80" x2="52.20" y2="1132.80" stroke="#000" stroke-width="1.5" />
<text x="46.50" y="1139.20" font-size="14.3" text-anchor="end" fill="#000" >0.5</text>
<line x1="47.90" y1="1110.00" x2="52.20" y2="1110.00" stroke="#000" stroke-width="1.5" />
<text x="46.50" y="1116.40" font-size="14.3" text-anchor="end" fill="#000" >0.6</text>
<rect x="63.30" y="1111.50" width="46.50" height="135.30" fill="#000"/>
<rect x="130.80" y="1230.20" width="46.80" height="16.60" fill="#000"/>
<rect x="198.60" y="1216.50" width="46.90" height="30.30" fill="#000"/>
<line x1="49.20" y1="1246.80" x2="256.30" y2="1246.80" stroke="#000" stroke-width="1.5" />
<line x1="86.30" y1="1246.80" x2="86.30" y2="1251.10" stroke="#000" stroke-width="1.5" />
<line x1="154.30" y1="1246.80" x2="154.30" y2="1251.10" stroke="#000" stroke-width="1.5" />
<line x1="222.00" y1="1246.80" x2="222.00" y2="1251.10" stroke="#000" stroke-width="1.5" />
<rect x="62.9" y="1106.8" width="114.3" height="3.2" fill="#000"/>
<text x="94.00" y="1105.30" font-size="13.8" text-anchor="start" fill="#000"  textLength="47.71" lengthAdjust="spacingAndGlyphs">MR-M1</text>
<text x="86.80" y="1265.40" font-size="15.0" text-anchor="middle" fill="#000" >DMSO</text>
<text x="154.80" y="1265.40" font-size="15.0" text-anchor="middle" fill="#000" >Epox</text>
<text x="222.50" y="1265.40" font-size="15.0" text-anchor="middle" fill="#000" >no ag</text>
<line x1="316.00" y1="1109.65" x2="316.00" y2="1247.55" stroke="#000" stroke-width="1.5" />
<line x1="311.70" y1="1246.80" x2="316.00" y2="1246.80" stroke="#000" stroke-width="1.5" />
<text x="310.50" y="1253.20" font-size="14.3" text-anchor="end" fill="#000" >0</text>
<line x1="311.70" y1="1229.75" x2="316.00" y2="1229.75" stroke="#000" stroke-width="1.5" />
<text x="310.50" y="1236.15" font-size="14.3" text-anchor="end" fill="#000" >1</text>
<line x1="311.70" y1="1212.70" x2="316.00" y2="1212.70" stroke="#000" stroke-width="1.5" />
<text x="310.50" y="1219.10" font-size="14.3" text-anchor="end" fill="#000" >2</text>
<line x1="311.70" y1="1195.65" x2="316.00" y2="1195.65" stroke="#000" stroke-width="1.5" />
<text x="310.50" y="1202.05" font-size="14.3" text-anchor="end" fill="#000" >3</text>
<line x1="311.70" y1="1178.60" x2="316.00" y2="1178.60" stroke="#000" stroke-width="1.5" />
<text x="310.50" y="1185.00" font-size="14.3" text-anchor="end" fill="#000" >4</text>
<line x1="311.70" y1="1161.55" x2="316.00" y2="1161.55" stroke="#000" stroke-width="1.5" />
<text x="310.50" y="1167.95" font-size="14.3" text-anchor="end" fill="#000" >5</text>
<line x1="311.70" y1="1144.50" x2="316.00" y2="1144.50" stroke="#000" stroke-width="1.5" />
<text x="310.50" y="1150.90" font-size="14.3" text-anchor="end" fill="#000" >6</text>
<line x1="311.70" y1="1127.45" x2="316.00" y2="1127.45" stroke="#000" stroke-width="1.5" />
<text x="310.50" y="1133.85" font-size="14.3" text-anchor="end" fill="#000" >7</text>
<line x1="311.70" y1="1110.40" x2="316.00" y2="1110.40" stroke="#000" stroke-width="1.5" />
<text x="310.50" y="1116.80" font-size="14.3" text-anchor="end" fill="#000" >8</text>
<rect x="327.00" y="1157.50" width="46.40" height="89.30" fill="#000"/>
<rect x="394.80" y="1115.50" width="46.50" height="131.30" fill="#000"/>
<rect x="462.70" y="1244.40" width="47.30" height="2.40" fill="#000"/>
<line x1="313.00" y1="1246.80" x2="520.00" y2="1246.80" stroke="#000" stroke-width="1.5" />
<line x1="350.20" y1="1246.80" x2="350.20" y2="1251.10" stroke="#000" stroke-width="1.5" />
<line x1="418.00" y1="1246.80" x2="418.00" y2="1251.10" stroke="#000" stroke-width="1.5" />
<line x1="486.50" y1="1246.80" x2="486.50" y2="1251.10" stroke="#000" stroke-width="1.5" />
<rect x="328.2" y="1106.8" width="111.8" height="3.2" fill="#000"/>
<text x="344.70" y="1103.80" font-size="13.8" text-anchor="start" fill="#000"  textLength="75.90" lengthAdjust="spacingAndGlyphs">M1 peptide</text>
<text x="350.70" y="1265.40" font-size="15.0" text-anchor="middle" fill="#000" >DMSO</text>
<text x="418.50" y="1265.40" font-size="15.0" text-anchor="middle" fill="#000" >Epox</text>
<text x="487.00" y="1265.40" font-size="15.0" text-anchor="middle" fill="#000" >no ag</text>
</svg>
</body></html>
